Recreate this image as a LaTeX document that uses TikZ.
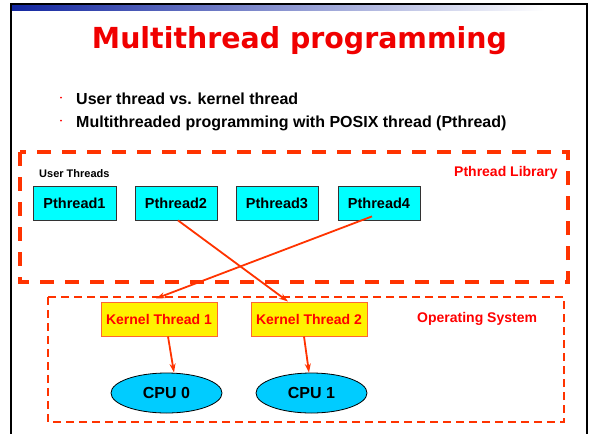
\documentclass[tikz,border=0pt]{standalone}
\usepackage{fontspec}
\setmainfont{Liberation Sans}
\newfontfamily\titlefont{DejaVu Sans}
\usetikzlibrary{shapes.geometric,arrows.meta,calc}
\definecolor{dashred}{HTML}{FF3300}
\definecolor{txtred}{HTML}{FF0000}
\definecolor{titred}{HTML}{F00000}
\definecolor{pcyan}{HTML}{00FFFF}
\definecolor{cpublue}{HTML}{00CCFF}
\definecolor{kborder}{HTML}{FF6633}
\definecolor{barblue}{HTML}{1226A0}
\tikzset{
  pbox/.style={draw=black!80, line width=0.8pt, fill=pcyan, minimum width=82pt, minimum height=34pt, inner sep=0pt, font=\fontsize{14.5}{16}\selectfont\bfseries},
  kbox/.style={draw=kborder, line width=1pt, fill=yellow, minimum width=116pt, minimum height=34pt, inner sep=0pt, text=txtred, font=\fontsize{14}{16}\selectfont\bfseries},
  cpu/.style={ellipse, draw=black, line width=0.8pt, fill=cpublue, minimum width=111pt, minimum height=40pt, inner sep=0pt, font=\fontsize{16}{18}\selectfont\bfseries},
  conn/.style={draw=dashred, line width=1.8pt, -{Stealth[length=9pt,width=6pt]}},
  biglib/.style={draw=dashred, line width=4pt, dash pattern=on 14pt off 11pt},
  oslib/.style={draw=dashred, line width=2pt, dash pattern=on 8pt off 5pt},
  lbl/.style={anchor=base west, inner sep=0pt, font=\fontsize{14}{16}\selectfont\bfseries},
  bul/.style={anchor=base west, inner sep=0pt, font=\fontsize{16}{18}\selectfont\bfseries}
}
\begin{document}
\begin{tikzpicture}[x=1pt,y=-1pt]
\useasboundingbox (0,0) rectangle (589,434);
\fill[white] (0,0) rectangle (589,434);
% slide frame
\shade[left color=barblue, right color=white] (11,4) rectangle (545,10.5);
\fill[white] (545,4) rectangle (586,10.5);
\draw[black, line width=2pt] (10,3.5) -- (588,3.5);
\draw[black, line width=2pt] (10.5,3) -- (10.5,434);
\draw[black, line width=2pt] (587,3) -- (587,434);
% title
\node[anchor=base, inner sep=0pt, text=titred] (title) at (299.5,48) {\resizebox{415pt}{22pt}{\titlefont\bfseries Multithread programming}};
% bullets
\fill[txtred] (61,97.5) circle (1pt);
\fill[txtred] (61,120.5) circle (1pt);
\node[bul] (b1) at (76,104) {User thread vs. kernel thread};
\node[bul] (b2) at (76,127) {Multithreaded programming with POSIX thread (Pthread)};
% dashed regions
\draw[biglib] (20,152) rectangle (568,282);
\draw[oslib] (48,297) rectangle (564,422);
\node[lbl, font=\fontsize{11}{13}\selectfont\bfseries] (ut) at (39,177) {User Threads};
\node[lbl, text=txtred] (pl) at (454,176) {Pthread Library};
\node[lbl, text=txtred] (os) at (417,322) {Operating System};
% user threads
\node[pbox, minimum width=83pt] (p1) at (74.5,203) {Pthread1};
\node[pbox] (p2) at (176,203) {Pthread2};
\node[pbox] (p3) at (277,203) {Pthread3};
\node[pbox] (p4) at (379,203) {Pthread4};
% kernel threads
\node[kbox] (k1) at (159,319) {Kernel Thread 1};
\node[kbox] (k2) at (309,319) {Kernel Thread 2};
% cpus
\node[cpu] (c0) at (166.5,393) {CPU 0};
\node[cpu] (c1) at (311.5,393) {CPU 1};
% connectors
\draw[conn] ($(p2.south)+(2,0)$) -- ($(k2.north)+(-21,0)$);
\draw[conn] ($(p4.south)+(-7,-4)$) -- ($(k1.north)+(-3,-3)$);
\draw[conn] ($(k1.south)+(9,0)$) -- ($(c0.north)+(7.5,0)$);
\draw[conn] ($(k2.south)+(-5,0)$) -- ($(c1.north)+(-2.5,0)$);
\end{tikzpicture}
\end{document}
